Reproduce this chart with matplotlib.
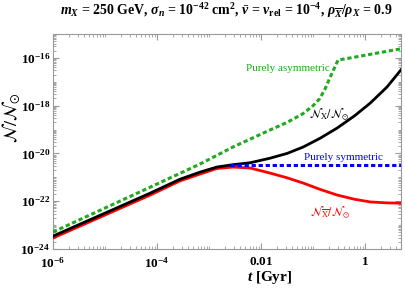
import numpy as np
import matplotlib
matplotlib.use("Agg")
import matplotlib.pyplot as plt
from matplotlib.ticker import FixedLocator, LogLocator, NullFormatter

plt.rcParams['font.family'] = ['Liberation Serif', 'DejaVu Serif']
plt.rcParams['mathtext.fontset'] = 'custom'
plt.rcParams['mathtext.rm'] = 'Liberation Serif:bold'
plt.rcParams['mathtext.bf'] = 'Liberation Serif:bold'
plt.rcParams['mathtext.it'] = 'Liberation Serif:italic:bold'

# values, as log10(t / Gyr) and log10(N / N_sun)
log_t = [-6, -4.13, -3.56, -3.17, -2.85, -2.54, -2.21, -1.83, -1.5, -1.19,
         -0.87, -0.54, -0.2, 0.1, 0.42, 0.69]
black_logN = [-23.46, -21.66, -21.08, -20.78, -20.57, -20.47, -20.39, -20.2,
              -20.0, -19.73, -19.37, -18.94, -18.42, -17.89, -17.22, -16.5]
red_logN = [-23.54, -21.74, -21.15, -20.86, -20.63, -20.57, -20.61, -20.82,
            -21.02, -21.24, -21.5, -21.74, -21.92, -22.03, -22.07, -22.08]

green_log_t = [-6, -4.13, -3.17, -2.54, -1.83, -1.5, -1.19, -1.0, -0.87,
               -0.77, -0.67, -0.52, -0.2, 0.2, 0.69]
green_logN = [-23.29, -21.41, -20.44, -19.73, -19.02, -18.7, -18.33, -18.0,
              -17.7, -17.3, -16.8, -16.09, -15.97, -15.81, -15.62]

blue_log_t = [-2.6, 0.69]
blue_logN = [-20.5, -20.5]

title = (r"$m_X$ = 250 GeV, $\sigma_n$ = 10$^{-42}$ cm$^2$, $\bar{v}$ = "
         r"$v_{\rm rel}$ = 10$^{-4}$, $\rho_{\overline{X}}/\rho_X$ = 0.9")

W, H = 405, 292
fig = plt.figure(figsize=(W / 100, H / 100), dpi=100)
ax = fig.add_axes([53 / W, 1 - 249 / H, 348 / W, 215 / H])

t = 10.0 ** np.array(log_t)
ax.plot(10.0 ** np.array(green_log_t), 10.0 ** np.array(green_logN),
        color='#1faa1f', lw=2.2, ls=(0, (1.4, 0.9)), zorder=3)
ax.plot(t, 10.0 ** np.array(red_logN), color='#ff0000', lw=2.0, zorder=4)
ax.plot(t, 10.0 ** np.array(black_logN), color='black', lw=2.0, zorder=5)
ax.plot(10.0 ** np.array(blue_log_t), 10.0 ** np.array(blue_logN),
        color='#0000ff', lw=2.2, ls=(0, (1.4, 0.9)), zorder=6)

ax.set_xscale('log')
ax.set_yscale('log')
ax.set_xlim(1e-6, 10 ** 0.69)
ax.set_ylim(1e-24, 1e-15)

ax.xaxis.set_major_locator(FixedLocator([1e-6, 1e-4, 1e-2, 1]))
ax.set_xticklabels([r"$10^{-6}$", r"$10^{-4}$", r"$0.01$", r"$1$"])
ax.xaxis.set_minor_locator(LogLocator(base=10, subs=np.arange(1, 10), numticks=30))
ax.xaxis.set_minor_formatter(NullFormatter())
ax.yaxis.set_major_locator(FixedLocator([1e-24, 1e-22, 1e-20, 1e-18, 1e-16]))
ax.set_yticklabels([r"$10^{-24}$", r"$10^{-22}$", r"$10^{-20}$",
                    r"$10^{-18}$", r"$10^{-16}$"])
ax.yaxis.set_minor_locator(LogLocator(base=10, subs=np.arange(1, 10), numticks=30))
ax.yaxis.set_minor_formatter(NullFormatter())

for s in ax.spines.values():
    s.set_color('#999999')
    s.set_linewidth(0.8)
ax.tick_params(which='both', direction='in', top=True, right=True,
               color='#999999', labelsize=9.5)
ax.tick_params(axis='y', pad=2)
ax.tick_params(axis='x', pad=5)
ax.tick_params(which='major', length=4)
ax.tick_params(which='minor', length=2)

# curve labels
ax.text(0.033, 3.7e-17, "Purely asymmetric", color='#1faa1f', fontsize=8,
        ha='center', va='center')
ax.text(0.2, 4.0e-19, r"$\mathcal{N}_{\mathrm{X}}/\mathcal{N}_{\odot}$",
        math_fontfamily='stix', fontsize=8.5, ha='center', va='center')
ax.text(0.38, 7e-21, "Purely symmetric", color='#0000ff', fontsize=8,
        ha='center', va='center')
ax.text(0.21, 3.2e-23,
        r"$\mathcal{N}_{\overline{\mathrm{X}}}/\mathcal{N}_{\odot}$",
        math_fontfamily='stix', fontsize=8.5, color='#ff0000',
        ha='center', va='center')

fig.text(226 / W, 1 - 11 / H, title, fontsize=10, fontweight='bold',
         ha='center', va='center')
fig.text(270 / W, 1 - 278 / H, r"$t$ [Gyr]", fontsize=11, fontweight='bold',
         ha='center', va='center')
fig.text(11 / W, 1 - 118 / H, r"$\mathcal{N}/\mathcal{N}_{\odot}$",
         math_fontfamily='stix', fontsize=13, rotation=90,
         ha='center', va='center')

fig.savefig("out.png", dpi=100)
